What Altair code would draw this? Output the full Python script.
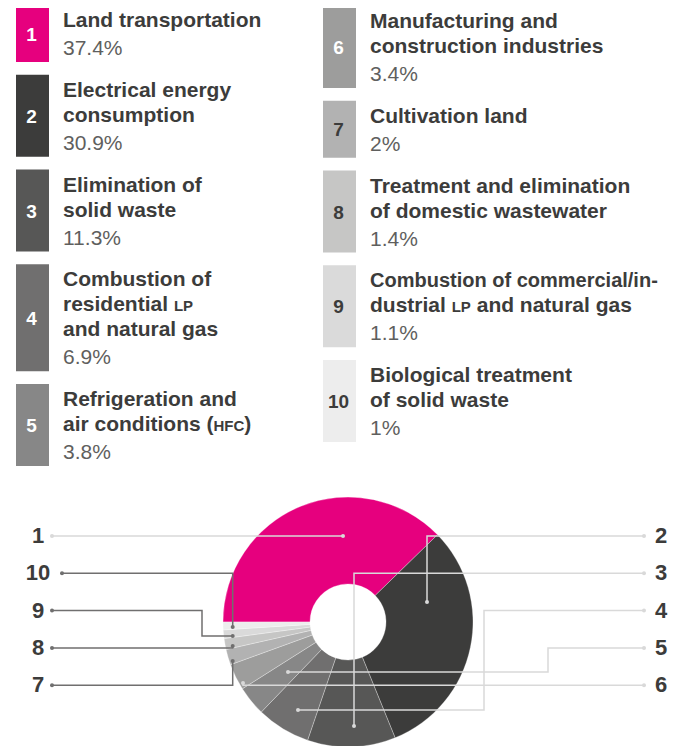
import math
import altair as alt
import pandas as pd

# ---------------- data ----------------
ids = [1, 2, 3, 4, 5, 6, 7, 8, 9, 10]
titles = [
    ["Land transportation"],
    ["Electrical energy", "consumption"],
    ["Elimination of", "solid waste"],
    ["Combustion of", "residential {LP}", "and natural gas"],
    ["Refrigeration and", "air conditions ({HFC})"],
    ["Manufacturing and", "construction industries"],
    ["Cultivation land"],
    ["Treatment and elimination", "of domestic wastewater"],
    ["Combustion of commercial/in-", "dustrial {LP} and natural gas"],
    ["Biological treatment", "of solid waste"],
]
shares = [37.4, 30.9, 11.3, 6.9, 3.8, 3.4, 2.0, 1.4, 1.1, 1.0]
share_labels = ["37.4%", "30.9%", "11.3%", "6.9%", "3.8%", "3.4%", "2%", "1.4%", "1.1%", "1%"]
slice_colors = ["#e6007e", "#3c3c3b", "#575756", "#706f6f", "#878787",
                "#9d9d9c", "#b2b2b2", "#c6c6c5", "#dadada", "#ededed"]
number_colors = ["#ffffff"] * 6 + ["#3c3c3b"] * 4
left_labels = [1, 10, 9, 8, 7]
right_labels = [2, 3, 4, 5, 6]

# ---------------- layout / style ----------------
FONT = "Liberation Sans, Arial, Helvetica, sans-serif"
DARK = "#3c3c3b"
PCT = "#5f5f5e"
LIGHT_LINE = "#d9d9d9"
DARK_LINE = "#706f6f"

M = 8
VIEW_W, VIEW_H = 663, 738
xs = alt.Scale(domain=[M, M + VIEW_W], nice=False, zero=False)
ys = alt.Scale(domain=[M, M + VIEW_H], nice=False, zero=False, reverse=True)

COL_X = [16, 323]
COL_TOP = [5, 6]
BOX_W = 33
TEXT_DX = 47
FIRST, LINE, PCT_GAP, BOTTOM, GAP = 22, 25, 28, 7, 12.75
TITLE_FS, SMALLCAP_FS, PCT_FS, NUM_FS = 21, 15, 21, 19
LINE_FS_OVERRIDE = {"Combustion of commercial/in-": 20}

# Arial/Liberation Sans Bold advance widths (per 1000 em)
AB = {" ": 278, "(": 333, ")": 333, "a": 556, "c": 556, "d": 611, "e": 556,
      "i": 278, "l": 278, "n": 611, "o": 611, "r": 389, "s": 556, "t": 333,
      "u": 611, "C": 722, "F": 611, "H": 722, "L": 611, "P": 667}


def tw(s, size):
    return sum(AB.get(c, 556) for c in s) * size / 1000.0


def segments(line):
    out = []
    parts = line.replace("}", "{").split("{")
    for k, p in enumerate(parts):
        if p:
            out.append((p, k % 2 == 1))
    return out


rects, nums, tl, pl = [], [], [], []
for col, members in enumerate([ids[:5], ids[5:]]):
    top = COL_TOP[col]
    bx = COL_X[col]
    for i in members:
        k = i - 1
        n = len(titles[k])
        h = FIRST + LINE * (n - 1) + PCT_GAP + BOTTOM
        rects.append({"id": i, "x": bx, "x2": bx + BOX_W, "y": top, "y2": top + h})
        nums.append({"id": i, "t": str(i), "x": bx + BOX_W / 2 - 1, "y": top + h / 2 + 1,
                     "c": number_colors[k]})
        for j, line in enumerate(titles[k]):
            y = top + FIRST + LINE * j
            x = bx + TEXT_DX
            fs0 = LINE_FS_OVERRIDE.get(line, TITLE_FS)
            for seg, small in segments(line):
                fs = SMALLCAP_FS if small else fs0
                lead = len(seg) - len(seg.lstrip(" "))
                x += tw(" " * lead, fs)
                body = seg.strip(" ")
                tl.append({"t": body, "x": x, "y": y, "fs": fs})
                x += tw(body, fs) + tw(" " * (len(seg.lstrip(" ")) - len(body)), fs)
        pl.append({"t": share_labels[k], "x": bx + TEXT_DX,
                   "y": top + FIRST + LINE * (n - 1) + PCT_GAP})
        top += h + GAP

# pie geometry
CX, CY, R_OUT, R_IN = 348, 622, 125, 38

# label rows beside the pie
ROW0, ROW_STEP = 536, 37.3
LEFT_LABEL_X, RIGHT_LABEL_X = 38, 661
LEFT_LINE_X, LEFT_LINE_X_WIDE, RIGHT_LINE_X = 52, 62, 644
row_y = {}
for r, i in enumerate(left_labels):
    row_y[i] = ROW0 + ROW_STEP * r
for r, i in enumerate(right_labels):
    row_y[i] = ROW0 + ROW_STEP * r

# leader anchors (dot inside slice) and elbows
ANCHOR = {1: (343, 536), 2: (427, 602), 3: (354, 726), 4: (298, 710), 5: (288, 672),
          6: (243, 683), 7: (232.7, 661), 8: (232.7, 646), 9: (232.7, 636), 10: (232.7, 627)}
ELBOW_X = {4: 484, 5: 548, 9: 202}

paths = []
for i in ids:
    ax, ay = ANCHOR[i]
    ly = row_y[i]
    if i in right_labels:
        ex = RIGHT_LINE_X
    else:
        ex = LEFT_LINE_X_WIDE if i >= 10 else LEFT_LINE_X
    if i in ELBOW_X:
        pts = [(ax, ay), (ELBOW_X[i], ay), (ELBOW_X[i], ly), (ex, ly)]
    elif abs(ay - ly) > 1:
        pts = [(ax, ay), (ax, ly), (ex, ly)]
    else:
        pts = [(ax, ly), (ex, ly)]
    lc = DARK_LINE if i >= 7 else LIGHT_LINE
    for o, (px, py) in enumerate(pts):
        paths.append({"id": i, "o": o, "x": px, "y": py, "lc": lc,
                      "end": o == 0 or o == len(pts) - 1})

labels = [{"t": str(i), "x": LEFT_LABEL_X, "y": row_y[i]} for i in left_labels] + \
         [{"t": str(i), "x": RIGHT_LABEL_X, "y": row_y[i]} for i in right_labels]

X = lambda f: alt.X(f, scale=xs, axis=None)
Y = lambda f: alt.Y(f, scale=ys, axis=None)
fill_scale = alt.Scale(domain=ids, range=slice_colors)

pie_df = pd.DataFrame({"id": ids, "share": shares, "cx": [CX] * 10, "cy": [CY] * 10})
pie = alt.Chart(pie_df).mark_arc(innerRadius=R_IN, outerRadius=R_OUT, stroke="#ffffff",
                                 strokeWidth=0.5, strokeOpacity=0.6).encode(
    x=X("cx:Q"), y=Y("cy:Q"),
    theta=alt.Theta("share:Q", stack=True,
                    scale=alt.Scale(range=[1.5 * math.pi, 3.5 * math.pi])),
    order=alt.Order("id:Q"),
    fill=alt.Fill("id:N", scale=fill_scale, legend=None),
)

boxes = alt.Chart(pd.DataFrame(rects)).mark_rect().encode(
    x=X("x:Q"), x2="x2:Q", y=Y("y:Q"), y2="y2:Q",
    fill=alt.Fill("id:N", scale=fill_scale, legend=None),
)

box_nums = alt.Chart(pd.DataFrame(nums)).mark_text(
    font=FONT, fontSize=NUM_FS, fontWeight="bold", align="center", baseline="middle").encode(
    x=X("x:Q"), y=Y("y:Q"), text="t:N", color=alt.Color("c:N", scale=None))

title_txt = alt.Chart(pd.DataFrame(tl)).mark_text(
    font=FONT, fontWeight="bold", align="left", baseline="alphabetic", color=DARK).encode(
    x=X("x:Q"), y=Y("y:Q"), text="t:N", size=alt.Size("fs:Q", scale=None))

pct_txt = alt.Chart(pd.DataFrame(pl)).mark_text(
    font=FONT, fontSize=PCT_FS, fontWeight="normal", align="left", baseline="alphabetic",
    color=PCT).encode(x=X("x:Q"), y=Y("y:Q"), text="t:N")

path_df = pd.DataFrame(paths)
lines = alt.Chart(path_df).mark_line(strokeWidth=1.5).encode(
    x=X("x:Q"), y=Y("y:Q"), detail="id:N", order="o:Q",
    stroke=alt.Stroke("lc:N", scale=None))

dots = alt.Chart(path_df[path_df["end"]]).mark_circle(size=16, opacity=1).encode(
    x=X("x:Q"), y=Y("y:Q"), color=alt.Color("lc:N", scale=None))

pie_labels = alt.Chart(pd.DataFrame(labels)).mark_text(
    font=FONT, fontSize=22, fontWeight="bold", align="center", baseline="middle",
    color=DARK).encode(x=X("x:Q"), y=Y("y:Q"), text="t:N")

chart = alt.layer(pie, boxes, box_nums, title_txt, pct_txt, lines, dots, pie_labels).properties(
    width=VIEW_W, height=VIEW_H, padding=0,
    autosize=alt.AutoSizeParams(type="none"),
).configure_view(strokeWidth=0)

chart.save("out.html", embed_options={"renderer": "svg", "actions": False})
